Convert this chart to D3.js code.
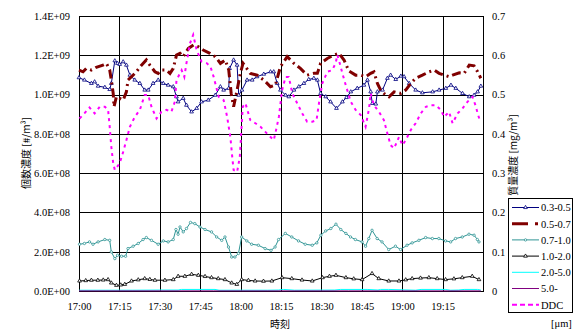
<!DOCTYPE html>
<html>
<head>
<meta charset="utf-8">
<script src="https://cdn.jsdelivr.net/npm/d3@7"></script>
<style>
  body { margin: 0; background: #fff; }
  text { font-family: "Liberation Serif", "Times New Roman", serif; fill: #000; }
  .jp { font-family: "Noto Sans CJK JP", sans-serif; }
</style>
</head>
<body>
<svg id="chart" width="579" height="331"></svg>
<script>
// minutes after 17:00 and values
const t03 = [0, 2, 4.6, 5.8, 7.1, 9.6, 11.4, 12, 13.3, 14.3, 15.1, 16.4, 17.6, 18.9, 20.7, 22.6, 24.4, 25.7, 27.5, 29.4, 31.3, 33.1, 35, 36.2, 36.8, 38.7, 39.9, 41.8, 43.7, 45.5, 48, 50.6, 52.5, 53.7, 55.6, 55.9, 57.4, 58.7, 59.3, 60.5, 62.4, 64.3, 66.1, 68.6, 71.1, 72.3, 73.6, 74.8, 76.7, 77.9, 79.8, 81.6, 83.5, 85.3, 87.2, 88.5, 89.7, 91.6, 93.4, 95.6, 97.8, 99.3, 100.9, 103.3, 105.8, 107.1, 108.3, 108.9, 110.2, 110.8, 112.7, 114.5, 115.7, 117.6, 119.5, 120.7, 122.6, 125, 127.5, 131.3, 133.7, 136.2, 138.1, 139.9, 142.4, 144.9, 146.7, 148, 149.2];
const v03 = [1.086, 1.074, 1.057, 1.065, 1.043, 1.037, 1.026, 1.057, 1.172, 1.159, 1.154, 1.167, 1.150, 1.099, 1.074, 1.057, 1.023, 1.023, 1.057, 1.074, 1.057, 1.048, 1.040, 0.989, 0.963, 0.981, 0.946, 0.912, 0.930, 0.963, 0.972, 0.997, 1.040, 1.023, 1.032, 1.133, 1.176, 1.150, 0.997, 1.023, 1.074, 1.074, 1.091, 1.104, 1.116, 1.116, 1.057, 1.023, 0.997, 0.989, 1.023, 1.040, 1.057, 1.077, 1.083, 1.074, 1.006, 0.989, 0.963, 0.930, 0.963, 0.985, 1.014, 1.032, 1.048, 1.074, 1.014, 0.955, 0.952, 1.014, 1.023, 1.083, 1.099, 1.077, 1.094, 1.091, 1.057, 1.023, 1.009, 1.014, 1.023, 1.032, 1.048, 1.032, 1.006, 0.989, 0.997, 1.014, 1.043].map(v => v * 1e9);

const t05 = [0, 1.5, 2.7, 4.6, 6.4, 8.9, 10.2, 11.4, 12, 12.7, 13, 13.9, 15.1, 16.4, 17.6, 18.2, 19.5, 21.3, 23.2, 25, 26.3, 28.2, 29.4, 30.6, 32.5, 33.8, 35, 36.2, 37.5, 38.7, 40.6, 42.5, 44.3, 46.1, 48.6, 50.6, 52.5, 54.3, 55.6, 56.5, 57.4, 58.7, 59.9, 60.9, 63.6, 66.1, 68.6, 71.1, 72.9, 74.8, 77.3, 79.8, 82.2, 84.7, 87.2, 88.5, 89.7, 92.2, 94.6, 96.5, 98.4, 100.2, 102.7, 104.6, 106.4, 108.3, 109.5, 110.8, 112, 113.2, 115.1, 117, 119.5, 121.3, 123.2, 125, 127.5, 130, 131.9, 133.7, 135.6, 137.4, 138.7, 141.2, 143, 144.9, 146.7, 148, 149.2];
const v05 = [1.125, 1.116, 1.133, 1.125, 1.139, 1.150, 1.159, 1.125, 1.074, 1.006, 0.938, 0.989, 0.981, 0.972, 1.014, 1.074, 1.091, 1.116, 1.150, 1.176, 1.150, 1.116, 1.108, 1.125, 1.125, 1.108, 1.133, 1.201, 1.210, 1.193, 1.235, 1.252, 1.244, 1.227, 1.210, 1.193, 1.159, 1.176, 1.125, 1.006, 0.938, 1.023, 1.108, 1.159, 1.108, 1.099, 1.074, 1.040, 1.048, 1.142, 1.193, 1.159, 1.133, 1.099, 1.108, 1.108, 1.159, 1.184, 1.201, 1.210, 1.176, 1.120, 1.099, 1.099, 1.091, 1.108, 1.116, 1.057, 1.023, 1.006, 0.989, 1.014, 1.006, 1.023, 1.057, 1.083, 1.099, 1.116, 1.125, 1.108, 1.099, 1.091, 1.099, 1.111, 1.108, 1.150, 1.146, 1.116, 1.083].map(v => v * 1e9);

const t07 = [0.2, 2, 3.9, 5.2, 7.1, 9.6, 11.4, 12, 13.3, 14.3, 15.8, 17.3, 18.2, 20.1, 22, 23.8, 25, 26.9, 29.4, 31.3, 33.1, 35, 36, 36.8, 37.5, 38.7, 39.9, 41.4, 43, 44.9, 46.8, 49.2, 51.1, 53, 54.2, 55.5, 56.7, 57.9, 59.2, 60.4, 62.3, 64.1, 66.6, 69.1, 71.3, 72.8, 74.1, 76.6, 79, 81.5, 84, 86.6, 88.3, 89.8, 91.6, 93.5, 95.4, 97.2, 99.1, 100.8, 102.6, 105.1, 106.4, 107.6, 108.8, 110.7, 112.5, 115, 117.5, 119.4, 121.8, 123.7, 126.2, 128.7, 131.2, 133.6, 136.1, 138, 139.8, 142.3, 144.8, 146.7, 147.9, 148.5];
const v07 = [2.38, 2.42, 2.50, 2.38, 2.50, 2.62, 2.58, 1.99, 1.65, 1.82, 1.77, 1.77, 2.16, 2.28, 2.42, 2.62, 2.72, 2.58, 2.38, 2.55, 2.50, 2.62, 3.13, 2.89, 3.26, 3.01, 3.18, 3.49, 3.43, 3.26, 3.13, 3.01, 2.75, 2.58, 2.75, 2.24, 1.73, 1.73, 1.91, 2.75, 2.55, 2.38, 2.33, 2.16, 2.07, 2.24, 2.62, 2.93, 2.75, 2.55, 2.38, 2.33, 2.45, 2.84, 3.06, 3.18, 3.40, 3.13, 2.93, 2.75, 2.62, 2.50, 2.28, 2.67, 3.09, 2.67, 2.50, 2.11, 2.28, 2.11, 2.33, 2.45, 2.58, 2.72, 2.67, 2.67, 2.55, 2.50, 2.67, 2.75, 2.89, 2.84, 2.62, 2.50].map(v => v * 1e8);

const t10 = [0.2, 2.5, 4.6, 7, 9, 10.8, 12, 13.9, 15.5, 17, 19.5, 22, 24.4, 26.3, 28.2, 31.9, 35, 36.8, 39.3, 41.8, 44.3, 46.8, 49.2, 51.7, 54.2, 56.7, 58.6, 60.4, 62.9, 65.4, 68.5, 71.6, 75.4, 79, 82.8, 86.6, 90.4, 93, 95.4, 99.1, 102, 105.1, 108.8, 111.3, 115, 118.8, 121.3, 123.7, 126.8, 129.9, 133, 136.1, 139.2, 142.3, 146, 148.5];
const v10 = [0.51, 0.53, 0.55, 0.55, 0.56, 0.58, 0.41, 0.29, 0.31, 0.34, 0.51, 0.57, 0.63, 0.59, 0.55, 0.55, 0.58, 0.75, 0.75, 0.85, 0.80, 0.74, 0.68, 0.63, 0.58, 0.41, 0.34, 0.58, 0.54, 0.51, 0.50, 0.51, 0.68, 0.63, 0.56, 0.51, 0.68, 0.75, 0.80, 0.68, 0.62, 0.58, 0.89, 0.63, 0.51, 0.51, 0.57, 0.63, 0.66, 0.68, 0.63, 0.58, 0.62, 0.68, 0.75, 0.58].map(v => v * 1e8);

const t20 = [0, 10, 20, 30, 36.8, 38, 50.5, 52, 70, 74, 76, 80, 95, 97, 107, 111, 112, 115, 125, 127, 136, 138, 141, 143, 148, 149.2];
const v20 = [0.04, 0.04, 0.04, 0.05, 0.05, 0.08, 0.08, 0.04, 0.04, 0.05, 0.08, 0.04, 0.05, 0.08, 0.08, 0.05, 0.08, 0.08, 0.04, 0.08, 0.08, 0.04, 0.05, 0.08, 0.08, 0.05].map(v => v * 1e8);

const t50 = [0, 50, 100, 149.2];
const v50 = [0.005, 0.005, 0.005, 0.005].map(v => v * 1e8);

const tDdc = [0.2, 2, 3.9, 5.8, 7.7, 9.6, 10.8, 11.4, 12, 12.7, 13.3, 15.1, 16.4, 17.6, 18.9, 20.7, 22.6, 24.4, 25.7, 26.9, 28.8, 30.6, 32.5, 34.3, 35.6, 36.2, 38.1, 39.1, 39.9, 41.2, 42.4, 43.7, 45.5, 47.4, 48.8, 50, 51.9, 53.7, 55, 56.2, 56.9, 57.4, 58.7, 59.7, 60.3, 60.8, 61.8, 63.6, 65.5, 67.4, 69.2, 71.1, 72.3, 72.9, 74.2, 75.4, 76.7, 77.9, 79.2, 81, 82.9, 84.7, 86.6, 88.2, 89.1, 90.3, 92.2, 94, 95.3, 95.9, 96.5, 97.8, 99, 100.9, 102.7, 104.6, 106.4, 107.7, 108.3, 109.5, 111.4, 113.2, 114.5, 115.7, 117, 118.8, 120.1, 121.3, 123.2, 125, 126.9, 128.8, 130.6, 132.5, 134.3, 135.6, 137.4, 138.7, 140.6, 142.4, 144.3, 146.1, 147.4, 148, 149];
const vDdc = [0.439, 0.452, 0.467, 0.452, 0.469, 0.469, 0.461, 0.418, 0.367, 0.325, 0.308, 0.325, 0.354, 0.384, 0.418, 0.443, 0.461, 0.499, 0.499, 0.469, 0.439, 0.456, 0.461, 0.456, 0.482, 0.537, 0.562, 0.545, 0.580, 0.630, 0.652, 0.613, 0.584, 0.580, 0.571, 0.545, 0.494, 0.486, 0.443, 0.392, 0.341, 0.308, 0.303, 0.341, 0.410, 0.469, 0.478, 0.435, 0.427, 0.418, 0.405, 0.392, 0.384, 0.401, 0.443, 0.511, 0.545, 0.545, 0.503, 0.478, 0.452, 0.431, 0.431, 0.435, 0.478, 0.528, 0.558, 0.562, 0.580, 0.601, 0.588, 0.554, 0.525, 0.482, 0.461, 0.448, 0.418, 0.465, 0.503, 0.473, 0.456, 0.435, 0.401, 0.371, 0.363, 0.392, 0.371, 0.384, 0.410, 0.427, 0.452, 0.469, 0.473, 0.473, 0.461, 0.443, 0.456, 0.427, 0.452, 0.465, 0.482, 0.494, 0.469, 0.452, 0.431];

const leftTicks = [0, 2e8, 4e8, 6e8, 8e8, 1e9, 1.2e9, 1.4e9];
const rightTicks = [0, 0.1, 0.2, 0.3, 0.4, 0.5, 0.6, 0.7];
const timeTicks = ["17:00", "17:15", "17:30", "17:45", "18:00", "18:15", "18:30", "18:45", "19:00", "19:15"];
const legendNames = ["0.3-0.5", "0.5-0.7", "0.7-1.0", "1.0-2.0", "2.0-5.0", "5.0-", "DDC"];

const svg = d3.select('#chart');
const margin = { top: 16, right: 96, bottom: 40, left: 79 };
const width = 579 - margin.left - margin.right;
const height = 331 - margin.top - margin.bottom;
const g = svg.append('g').attr('transform', `translate(${margin.left},${margin.top})`);

const base = new Date(2000, 0, 1, 17, 0);
const toDate = (m) => new Date(base.getTime() + m * 60000);
const parseHM = d3.timeParse('%H:%M');
const hmDate = (s) => { const p = parseHM(s); return new Date(2000, 0, 1, p.getHours(), p.getMinutes()); };

const x = d3.scaleTime().domain([base, toDate(150)]).range([0, width]);
const yL = d3.scaleLinear().domain([0, 1.4e9]).range([height, 0]);
const yR = d3.scaleLinear().domain([0, 0.7]).range([height, 0]);

const sci = (v) => {
  if (v === 0) return '0.0E+00';
  const e = Math.floor(Math.log10(v) + 1e-9);
  return (v / Math.pow(10, e)).toFixed(1) + 'E+' + String(e).padStart(2, '0');
};

// grid
g.selectAll('.hgrid').data(leftTicks).join('line')
  .attr('x1', 0).attr('x2', width)
  .attr('y1', d => Math.round(yL(d)) + 0.5).attr('y2', d => Math.round(yL(d)) + 0.5)
  .attr('stroke', '#000').attr('stroke-width', 1);
g.selectAll('.vgrid').data(timeTicks.slice(1)).join('line')
  .attr('x1', d => Math.round(x(hmDate(d))) + 0.5).attr('x2', d => Math.round(x(hmDate(d))) + 0.5)
  .attr('y1', 0).attr('y2', height)
  .attr('stroke', '#000').attr('stroke-width', 1);
g.append('rect').attr('x', 0.5).attr('y', 0.5).attr('width', width).attr('height', height)
  .attr('fill', 'none').attr('stroke', '#000').attr('stroke-width', 1);

// axes
const axL = g.append('g').call(d3.axisLeft(yL).tickValues(leftTicks).tickFormat(sci).tickSize(0).tickPadding(9));
const axR = g.append('g').attr('transform', `translate(${width},0)`)
  .call(d3.axisRight(yR).tickValues(rightTicks).tickFormat(d => d === 0 ? '0' : d3.format('.1f')(d)).tickSize(0).tickPadding(9));
const axX = g.append('g').attr('transform', `translate(0,${height})`)
  .call(d3.axisBottom(x).tickValues(timeTicks.map(hmDate)).tickFormat(d3.timeFormat('%H:%M')).tickSize(0).tickPadding(12));
[axL, axR, axX].forEach(a => {
  a.select('.domain').remove();
  a.selectAll('text').style('font-family', '"Liberation Serif", serif').style('font-size', '10.5px').attr('fill', '#222');
});

// series
const series = [
  { t: t03, v: v03, y: yL, color: '#000080', width: 1, dash: null, marker: 'tri' },
  { t: t05, v: v05, y: yL, color: '#800000', width: 3, dash: '9,4,2,4', marker: null },
  { t: t07, v: v07, y: yL, color: '#2e9494', width: 1, dash: null, marker: 'circ' },
  { t: t10, v: v10, y: yL, color: '#000000', width: 1, dash: null, marker: 'tri' },
  { t: t20, v: v20, y: yL, color: '#00ffff', width: 1, dash: null, marker: null },
  { t: t50, v: v50, y: yL, color: '#800080', width: 1, dash: null, marker: null },
  { t: tDdc, v: vDdc, y: yR, color: '#ff00ff', width: 2, dash: '3,4', marker: null }
];
const drawOrder = [4, 5, 3, 2, 0, 1, 6];
const triangle = d3.symbol().type(d3.symbolTriangle).size(6);

drawOrder.forEach(i => {
  const s = series[i];
  const pts = s.t.map((m, k) => [x(toDate(m)), s.y(s.v[k])]);
  g.append('path').datum(pts)
    .attr('d', d3.line())
    .attr('fill', 'none').attr('stroke', s.color).attr('stroke-width', s.width)
    .attr('stroke-dasharray', s.dash);
  if (s.marker === 'tri') {
    g.append('g').selectAll('path').data(pts).join('path')
      .attr('d', triangle).attr('transform', d => `translate(${d[0]},${d[1]})`)
      .attr('fill', '#fff').attr('stroke', s.color).attr('stroke-width', 0.8);
  } else if (s.marker === 'circ') {
    g.append('g').selectAll('circle').data(pts).join('circle')
      .attr('cx', d => d[0]).attr('cy', d => d[1]).attr('r', 1.2)
      .attr('fill', '#fff').attr('stroke', s.color).attr('stroke-width', 0.8);
  }
});

// axis titles
svg.append('text').attr('class', 'jp')
  .attr('transform', 'translate(30,153) rotate(-90)')
  .attr('text-anchor', 'middle').style('font-size', '10px').attr('fill', '#444')
  .text('個数濃度 [#/m³]');
svg.append('text').attr('class', 'jp')
  .attr('transform', 'translate(517,155) rotate(-90)')
  .attr('text-anchor', 'middle').style('font-size', '10px').attr('fill', '#444')
  .text('質量濃度 [mg/m³]');
svg.append('text').attr('class', 'jp')
  .attr('x', 280).attr('y', 328).attr('text-anchor', 'middle')
  .style('font-size', '10px').attr('fill', '#444').text('時刻');
svg.append('text').attr('x', 551).attr('y', 327).style('font-size', '10.5px').attr('fill', '#222').text('[μm]');

// legend
const lg = svg.append('g').attr('transform', 'translate(508,198)');
lg.append('rect').attr('x', 0.5).attr('y', 0.5).attr('width', 64).attr('height', 114)
  .attr('fill', '#fff').attr('stroke', '#000').attr('stroke-width', 1);
legendNames.forEach((name, i) => {
  const s = series[i];
  const yy = 9.5 + i * 16.2;
  lg.append('line').attr('x1', 4).attr('x2', 31).attr('y1', yy).attr('y2', yy)
    .attr('stroke', s.color).attr('stroke-width', s.width)
    .attr('stroke-dasharray', s.dash === '9,4,2,4' ? '16,7,3,6' : (s.dash ? '5,3' : null));
  if (s.marker === 'tri') {
    lg.append('path').attr('d', triangle).attr('transform', `translate(17.5,${yy})`)
      .attr('fill', '#fff').attr('stroke', s.color).attr('stroke-width', 0.8);
  } else if (s.marker === 'circ') {
    lg.append('circle').attr('cx', 17.5).attr('cy', yy).attr('r', 1.2)
      .attr('fill', '#fff').attr('stroke', s.color).attr('stroke-width', 0.8);
  }
  lg.append('text').attr('x', 33).attr('y', yy + 3.8).style('font-size', '10.5px').attr('fill', '#222').text(name);
});
</script>
</body>
</html>
